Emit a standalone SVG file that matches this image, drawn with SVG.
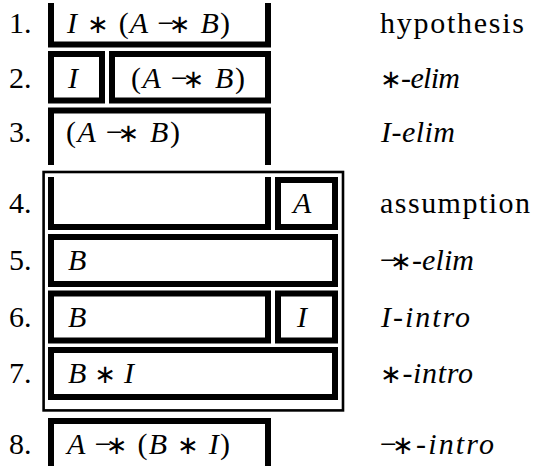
<svg xmlns="http://www.w3.org/2000/svg" width="537" height="466" viewBox="0 0 537 466">
<style>
.bx{fill:none;stroke:#000;stroke-width:6;stroke-linejoin:miter;stroke-linecap:butt}
.ob{fill:none;stroke:#000;stroke-width:2.6}
.t{font-family:'Liberation Serif','Times New Roman',serif;font-size:30px;fill:#000}
.m{font-style:italic}
.u{font-style:normal}
.s{font-family:'DejaVu Sans',sans-serif;font-style:normal;font-weight:normal;font-size:26px}
</style>
<rect width="537" height="466" fill="#fff"/>
<g id="frame"><rect class="ob" x="43.6" y="172" width="299.4" height="238.4"/></g>
<g class="t" font-family="Liberation Serif, Times New Roman, serif">
<g id="line1">
<text x="9" y="33">1.</text>
<path class="bx" d="M51 3V44.5H268V3"/>
<text x="67" y="33" class="m" textLength="163" lengthAdjust="spacing">I <tspan class="s">∗</tspan><tspan class="u"> (</tspan>A <tspan class="u">−</tspan><tspan class="s" dx="-7">∗</tspan> B<tspan class="u">)</tspan></text>
<text x="380" y="33" textLength="144" lengthAdjust="spacing">hypothesis</text>
</g>
<g id="line2">
<text x="9" y="88">2.</text>
<rect class="bx" x="51" y="54" width="51" height="46.5"/>
<rect class="bx" x="112" y="54" width="156" height="46.5"/>
<text x="68" y="88" class="m">I</text>
<text x="131" y="88" class="m" textLength="114" lengthAdjust="spacing"><tspan class="u">(</tspan>A <tspan class="u">−</tspan><tspan class="s" dx="-7">∗</tspan> B<tspan class="u">)</tspan></text>
<text x="380" y="88" textLength="80" lengthAdjust="spacing"><tspan class="s">∗</tspan>-<tspan class="m">elim</tspan></text>
</g>
<g id="line3">
<text x="9" y="142">3.</text>
<path class="bx" d="M51 165V110.5H268V165"/>
<text x="66" y="142" class="m" textLength="114" lengthAdjust="spacing"><tspan class="u">(</tspan>A <tspan class="u">−</tspan><tspan class="s" dx="-7">∗</tspan> B<tspan class="u">)</tspan></text>
<text x="381" y="142" class="m" textLength="74" lengthAdjust="spacing">I<tspan class="u">-</tspan>elim</text>
</g>
<g id="line4">
<text x="9" y="213">4.</text>
<path class="bx" d="M51 177V227H268V177"/>
<rect class="bx" x="278" y="180" width="57" height="47"/>
<text x="293" y="213" class="m">A</text>
<text x="380" y="213" textLength="150" lengthAdjust="spacing">assumption</text>
</g>
<g id="line5">
<text x="9" y="270">5.</text>
<rect class="bx" x="51" y="237" width="284" height="47"/>
<text x="68" y="270" class="m">B</text>
<text x="380" y="270" textLength="94" lengthAdjust="spacing">−<tspan class="s" dx="-7">∗</tspan>-<tspan class="m">elim</tspan></text>
</g>
<g id="line6">
<text x="9" y="326.5">6.</text>
<rect class="bx" x="51" y="293.5" width="217" height="47"/>
<rect class="bx" x="278" y="293.5" width="57" height="47"/>
<text x="68" y="326.5" class="m">B</text>
<text x="297" y="326.5" class="m">I</text>
<text x="381" y="326.5" class="m" textLength="89" lengthAdjust="spacing">I<tspan class="u">-</tspan>intro</text>
</g>
<g id="line7">
<text x="9" y="383">7.</text>
<rect class="bx" x="51" y="350" width="284" height="47"/>
<text x="68" y="383" class="m" textLength="66" lengthAdjust="spacing">B <tspan class="s">∗</tspan> I</text>
<text x="380" y="383" textLength="93" lengthAdjust="spacing"><tspan class="s">∗</tspan>-<tspan class="m">intro</tspan></text>
</g>
<g id="line8">
<text x="9" y="454">8.</text>
<path class="bx" d="M51 470V421H268V470"/>
<text x="67" y="454" class="m" textLength="163" lengthAdjust="spacing">A <tspan class="u">−</tspan><tspan class="s" dx="-7">∗</tspan> <tspan class="u">(</tspan>B <tspan class="s">∗</tspan> I<tspan class="u">)</tspan></text>
<text x="380" y="454" textLength="114" lengthAdjust="spacing">−<tspan class="s" dx="-7">∗</tspan>-<tspan class="m">intro</tspan></text>
</g>
</g>
<g id="connectors"></g>
</svg>
